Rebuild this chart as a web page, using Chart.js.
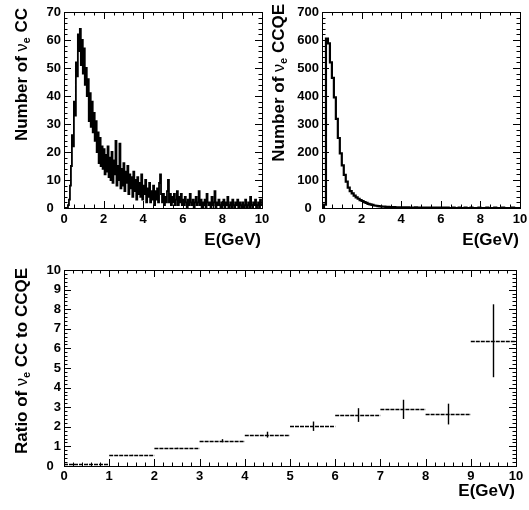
<!DOCTYPE html>
<html>
<head>
<meta charset="utf-8">
<script src="https://cdn.jsdelivr.net/npm/chart.js@4.4.0/dist/chart.umd.min.js"></script>
<style>
  html, body { margin: 0; padding: 0; background: #fff; }
  #wrap { position: relative; width: 529px; height: 510px; overflow: hidden; }
  canvas { position: absolute; }
</style>
</head>
<body>
<div id="wrap">
  <canvas id="chart_cc" style="left:0;top:0" width="270" height="256"></canvas>
  <canvas id="chart_ccqe" style="left:255px;top:0" width="274" height="256"></canvas>
  <canvas id="chart_ratio" style="left:0;top:254px" width="529" height="256"></canvas>
</div>
<script>
// nu_e CC counts, 0.05 GeV bins from 0 to 10 GeV
const ccBinWidth = 0.05;
const ccCounts = [
  0, 0, 0, 0, 1, 3, 8, 15, 26, 22, 38, 33, 52, 47, 62, 56, 64, 51, 60, 48,
  57, 44, 50, 40, 46, 31, 41, 29, 38, 27, 34, 24, 31, 20, 27, 16, 25, 15, 22, 14,
  21, 12, 19, 13, 22, 11, 18, 10, 20, 9, 17, 12, 24, 8, 15, 10, 23, 7, 14, 8,
  16, 6, 13, 9, 15, 5, 12, 7, 11, 4, 13, 6, 10, 3, 11, 5, 9, 4, 12, 3,
  8, 5, 10, 2, 7, 4, 9, 2, 6, 3, 8, 1, 6, 3, 7, 2, 9, 12, 5, 2,
  5, 1, 4, 2, 6, 10, 2, 5, 1, 4, 2, 5, 1, 3, 6, 1, 4, 2, 5, 1,
  3, 1, 4, 2, 0, 3, 1, 5, 2, 1, 3, 0, 2, 4, 1, 2, 6, 1, 3, 0,
  2, 1, 3, 0, 5, 2, 1, 2, 0, 4, 1, 2, 6, 0, 2, 1, 3, 1, 0, 2,
  1, 3, 0, 2, 1, 4, 0, 1, 2, 0, 3, 1, 0, 2, 1, 3, 0, 2, 1, 0,
  2, 0, 1, 3, 0, 1, 2, 0, 4, 1, 0, 2, 1, 3, 0, 1, 2, 0, 3, 1
];

// nu_e CCQE counts, 0.1 GeV bins from 0 to 10 GeV
const ccqeBinWidth = 0.1;
const ccqeCounts = [
  0, 12, 605, 588, 520, 465, 395, 318, 250, 195,
  152, 118, 94, 73, 60, 52, 44, 38, 33, 28,
  25, 21, 18, 15, 13, 11, 9, 8, 7, 6,
  5, 5, 4, 4, 3, 3, 3, 2, 2, 2,
  2, 2, 1, 2, 1, 1, 1, 2, 1, 1,
  1, 1, 0, 1, 1, 0, 1, 0, 1, 1,
  0, 1, 0, 1, 0, 0, 1, 0, 0, 1,
  0, 0, 1, 0, 0, 1, 0, 0, 0, 1,
  0, 0, 0, 1, 0, 0, 0, 1, 0, 0,
  0, 1, 0, 0, 0, 0, 1, 0, 0, 0
];

// ratio CC / CCQE in 1 GeV bins
const ratioBinLow = [0, 1, 2, 3, 4, 5, 6, 7, 8, 9];
const ratioBinHigh = [1, 2, 3, 4, 5, 6, 7, 8, 9, 10];
const ratioValues = [0.1, 0.55, 0.9, 1.29, 1.6, 2.03, 2.6, 2.89, 2.65, 6.39];
const ratioErrors = [0.01, 0.02, 0.03, 0.08, 0.15, 0.24, 0.35, 0.49, 0.53, 1.86];

const tickFont = { family: '"Liberation Sans", Arial, sans-serif', size: 13, weight: "bold" };
const titleFont = 'bold 17px "Liberation Sans", Arial, sans-serif';
const nuFont = 'normal 16px "Liberation Sans", Arial, sans-serif';
const subFont = 'bold 11px "Liberation Sans", Arial, sans-serif';

Chart.defaults.color = "#000";
Chart.defaults.font.family = tickFont.family;

function histPoints(counts, width) {
  let pts = counts.map((c, i) => ({ x: i * width, y: c }));
  pts.push({ x: counts.length * width, y: counts[counts.length - 1] });
  return pts;
}

// frame with inward ticks on all four sides (ROOT style)
const frameTicks = {
  id: "frameTicks",
  afterDraw(chart, args, opts) {
    const ctx = chart.ctx;
    const a = chart.chartArea;
    const xs = chart.scales.x;
    const ys = chart.scales.y;
    ctx.save();
    ctx.strokeStyle = "#000";
    ctx.lineWidth = 1;
    ctx.strokeRect(Math.round(a.left) + 0.5, Math.round(a.top) + 0.5,
      Math.round(a.right - a.left), Math.round(a.bottom - a.top));
    ctx.beginPath();
    let n = Math.round((xs.max - xs.min) / opts.xMinor);
    let every = Math.round(opts.xMajor / opts.xMinor);
    for (let k = 0; k <= n; k++) {
      let px = Math.round(xs.getPixelForValue(xs.min + k * opts.xMinor)) + 0.5;
      let len = k % every == 0 ? opts.major : opts.minor;
      ctx.moveTo(px, a.bottom); ctx.lineTo(px, a.bottom - len);
      ctx.moveTo(px, a.top); ctx.lineTo(px, a.top + len);
    }
    n = Math.round((ys.max - ys.min) / opts.yMinor);
    every = Math.round(opts.yMajor / opts.yMinor);
    for (let k = 0; k <= n; k++) {
      let py = Math.round(ys.getPixelForValue(ys.min + k * opts.yMinor)) + 0.5;
      let len = k % every == 0 ? opts.major : opts.minor;
      ctx.moveTo(a.left, py); ctx.lineTo(a.left + len, py);
      ctx.moveTo(a.right, py); ctx.lineTo(a.right - len, py);
    }
    ctx.stroke();
    ctx.restore();
  }
};

// axis titles; the y title has a greek letter with subscript
const axisTitles = {
  id: "axisTitles",
  afterDraw(chart, args, opts) {
    const ctx = chart.ctx;
    ctx.save();
    ctx.fillStyle = "#000";
    ctx.font = titleFont;
    ctx.textAlign = "right";
    ctx.textBaseline = "middle";
    ctx.fillText(opts.xText, chart.chartArea.right + opts.xDx, opts.xY);

    ctx.translate(opts.yX, opts.yEnd);
    ctx.rotate(-Math.PI / 2);
    let total = 0;
    opts.yParts.forEach((p) => {
      ctx.font = p.font;
      total += ctx.measureText(p.text).width;
    });
    let pos = -total;
    ctx.textAlign = "left";
    ctx.textBaseline = "alphabetic";
    opts.yParts.forEach((p) => {
      ctx.font = p.font;
      ctx.fillText(p.text, pos, p.dy || 0);
      pos += ctx.measureText(p.text).width;
    });
    ctx.restore();
  }
};

// horizontal bin-width bars and vertical error bars
const errorBars = {
  id: "errorBars",
  afterDatasetsDraw(chart) {
    const ctx = chart.ctx;
    const xs = chart.scales.x;
    const ys = chart.scales.y;
    ctx.save();
    ctx.strokeStyle = "#000";
    ratioValues.forEach((v, i) => {
      let y = Math.round(ys.getPixelForValue(v)) + 0.5;
      let x0 = xs.getPixelForValue(ratioBinLow[i]);
      let x1 = xs.getPixelForValue(ratioBinHigh[i]);
      let xc = Math.round(xs.getPixelForValue((ratioBinLow[i] + ratioBinHigh[i]) / 2)) + 0.5;
      ctx.lineWidth = 1.4;
      ctx.setLineDash([4, 1]);
      ctx.beginPath();
      ctx.moveTo(x0, y); ctx.lineTo(x1, y);
      ctx.stroke();
      ctx.setLineDash([]);
      ctx.lineWidth = 1.4;
      ctx.beginPath();
      ctx.moveTo(xc, ys.getPixelForValue(v - ratioErrors[i]));
      ctx.lineTo(xc, ys.getPixelForValue(v + ratioErrors[i]));
      ctx.stroke();
    });
    ctx.restore();
  }
};

function fixX(h) {
  return function (scale) {
    scale.height = h;
    scale.paddingLeft = 0;
    scale.paddingRight = 0;
  };
}
function fixY(w) {
  return function (scale) {
    scale.width = w;
    scale.paddingTop = 0;
    scale.paddingBottom = 0;
  };
}
function zeroLabel(v) {
  return v === 0 ? "0  " : v;
}

function makeScales(xStep, yMax, yStep, xHeight, yWidth, xPad) {
  return {
    x: {
      type: "linear", min: 0, max: 10,
      grid: { display: false, drawTicks: false }, border: { display: false },
      ticks: { stepSize: xStep, maxRotation: 0, autoSkip: false, padding: xPad, font: tickFont, color: "#000" },
      afterFit: fixX(xHeight)
    },
    y: {
      type: "linear", min: 0, max: yMax,
      grid: { display: false, drawTicks: false }, border: { display: false },
      ticks: { stepSize: yStep, autoSkip: false, padding: 3, font: tickFont, color: "#000", callback: zeroLabel },
      afterFit: fixY(yWidth)
    }
  };
}

function drawHist(id, counts, width, lineW, yMax, yStep, yWidth, padRight, ticks, titles) {
  return new Chart(document.getElementById(id), {
    type: "line",
    data: {
      datasets: [{
        data: histPoints(counts, width),
        stepped: true,
        borderColor: "#000",
        borderWidth: lineW,
        pointRadius: 0,
        fill: false
      }]
    },
    options: {
      responsive: false,
      animation: false,
      events: [],
      layout: { padding: { left: 0, top: 12, right: padRight, bottom: 0 } },
      plugins: {
        legend: { display: false },
        tooltip: { enabled: false },
        frameTicks: ticks,
        axisTitles: titles
      },
      scales: makeScales(2, yMax, yStep, 48, yWidth, 4)
    },
    plugins: [frameTicks, axisTitles]
  });
}

drawHist("chart_cc", ccCounts, ccBinWidth, 1.8, 70, 10, 64, 8,
  { xMajor: 2, xMinor: 0.5, yMajor: 10, yMinor: 2, major: 7, minor: 3.5 },
  {
    xText: "E(GeV)", xDx: -1, xY: 240, yX: 27, yEnd: 8,
    yParts: [
      { text: "Number of ", font: titleFont },
      { text: "\u03bd", font: nuFont },
      { text: "e", font: subFont, dy: 3 },
      { text: " CC", font: titleFont }
    ]
  });

drawHist("chart_ccqe", ccqeCounts, ccqeBinWidth, 2.2, 700, 100, 67, 9,
  { xMajor: 2, xMinor: 0.5, yMajor: 100, yMinor: 20, major: 7, minor: 3.5 },
  {
    xText: "E(GeV)", xDx: -1, xY: 240, yX: 29, yEnd: 4,
    yParts: [
      { text: "Number of ", font: titleFont },
      { text: "\u03bd", font: nuFont },
      { text: "e", font: subFont, dy: 3 },
      { text: " CCQE", font: titleFont }
    ]
  });

var ratioChart = new Chart(document.getElementById("chart_ratio"), {
  type: "scatter",
  data: {
    datasets: [{
      data: ratioValues.map((v, i) => ({ x: (ratioBinLow[i] + ratioBinHigh[i]) / 2, y: v })),
      pointRadius: 0,
      showLine: false
    }]
  },
  options: {
    responsive: false,
    animation: false,
    events: [],
    layout: { padding: { left: 0, top: 16, right: 13, bottom: 0 } },
    plugins: {
      legend: { display: false },
      tooltip: { enabled: false },
      frameTicks: { xMajor: 1, xMinor: 0.2, yMajor: 1, yMinor: 0.2, major: 7, minor: 3.5 },
      axisTitles: {
        xText: "E(GeV)", xDx: -1, xY: 237, yX: 27, yEnd: 14,
        yParts: [
          { text: "Ratio of ", font: titleFont },
          { text: "\u03bd", font: nuFont },
          { text: "e", font: subFont, dy: 3 },
          { text: " CC to CCQE", font: titleFont }
        ]
      }
    },
    scales: makeScales(1, 10, 1, 44, 64, 3)
  },
  plugins: [frameTicks, axisTitles, errorBars]
});
</script>
</body>
</html>
